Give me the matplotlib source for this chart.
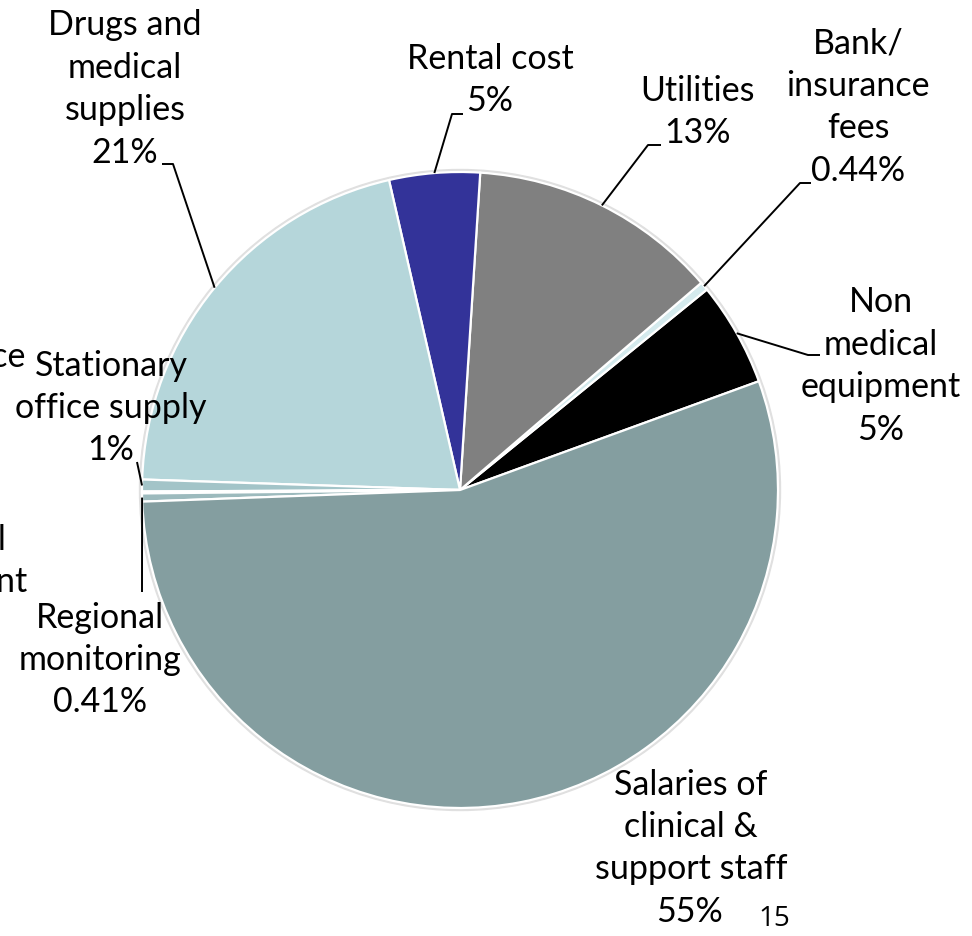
import numpy as np
import matplotlib.pyplot as plt
from matplotlib.patches import Circle

# slices, counter-clockwise from the right edge of the salaries slice
names = ["Non\nmedical\nequipment", "Bank/\ninsurance\nfees", "Utilities",
         "Rental cost", "Drugs and\nmedical\nsupplies", "Stationary\noffice supply",
         "Office\nmaintenance", "Medical\nequipment", "Regional\nmonitoring",
         "Salaries of\nclinical &\nsupport staff"]
pct_text = ["5%", "0.44%", "13%", "5%", "21%", "1%", "0.05%", "0.05%", "0.41%", "55%"]
values = [5.3, 0.44, 12.7, 4.6, 20.9, 0.6, 0.05, 0.05, 0.41, 55.0]
colors = ["#000000", "#d4eaed", "#808080", "#333399", "#b5d6da", "#a3c4c8",
          "#9fbec1", "#9fbec1", "#9cbabd", "#849ea0"]

W, H = 972, 936
fig = plt.figure(figsize=(W / 100, H / 100), dpi=100)
ax = fig.add_axes([0, 0, 1, 1])

cx, cy, r = 460, H - 490, 318
ax.add_patch(Circle((cx, cy), r + 2.5, color="#e0e0e0", zorder=0))
wedges, _ = ax.pie(values, colors=colors, startangle=20, counterclock=True,
                   center=(cx, cy), radius=r, frame=True,
                   wedgeprops=dict(edgecolor="white", linewidth=1.6))
ax.set_xlim(0, W)
ax.set_ylim(0, H)
ax.set_aspect("equal")
ax.axis("off")

font = dict(family="Lato", fontsize=24.5, linespacing=1.4, color="black")

def P(x, y):
    return x, H - y

# label position (pixel, top-down), alignment, leader elbow and end
layout = [
    ((881, 366), "center", [(808, 355), (820, 355)]),
    ((858, 107), "center", [(800, 183), (811, 183)]),
    ((697, 112), "center", [(648, 145), (661, 145)]),
    ((490, 80), "center", [(452, 114), (463, 114)]),
    ((125, 89), "center", [(173, 164), (162, 164)]),
    ((111, 408), "center", [(137, 462)]),
    ((26, 357), "right", None),
    ((28, 582), "right", None),
    ((100, 660), "center", [(142, 592)]),
    ((691, 848), "center", None),
]

for i, (w, (pos, ha, lead)) in enumerate(zip(wedges, layout)):
    x, y = P(*pos)
    if i == len(wedges) - 1:
        # salaries: percent drawn on its own so it sits clear of the page number
        ax.text(x, y + 21, names[i], ha=ha, va="center", multialignment="center", **font)
        ax.text(x - 2, y - 64, pct_text[i], ha=ha, va="center", **font)
    else:
        ax.text(x, y, names[i] + "\n" + pct_text[i], ha=ha, va="center",
                multialignment="center", **font)
    if lead:
        mid = np.deg2rad((w.theta1 + w.theta2) / 2)
        pts = [(cx + r * np.cos(mid), cy + r * np.sin(mid))] + [P(*p) for p in lead]
        xs, ys = zip(*pts)
        ax.plot(xs, ys, color="black", lw=1.4, solid_capstyle="butt")

ax.text(*P(774, 919), "15", ha="center", va="center", fontsize=20,
        family="Open Sans", color="black")

fig.savefig("out.png", dpi=100)
